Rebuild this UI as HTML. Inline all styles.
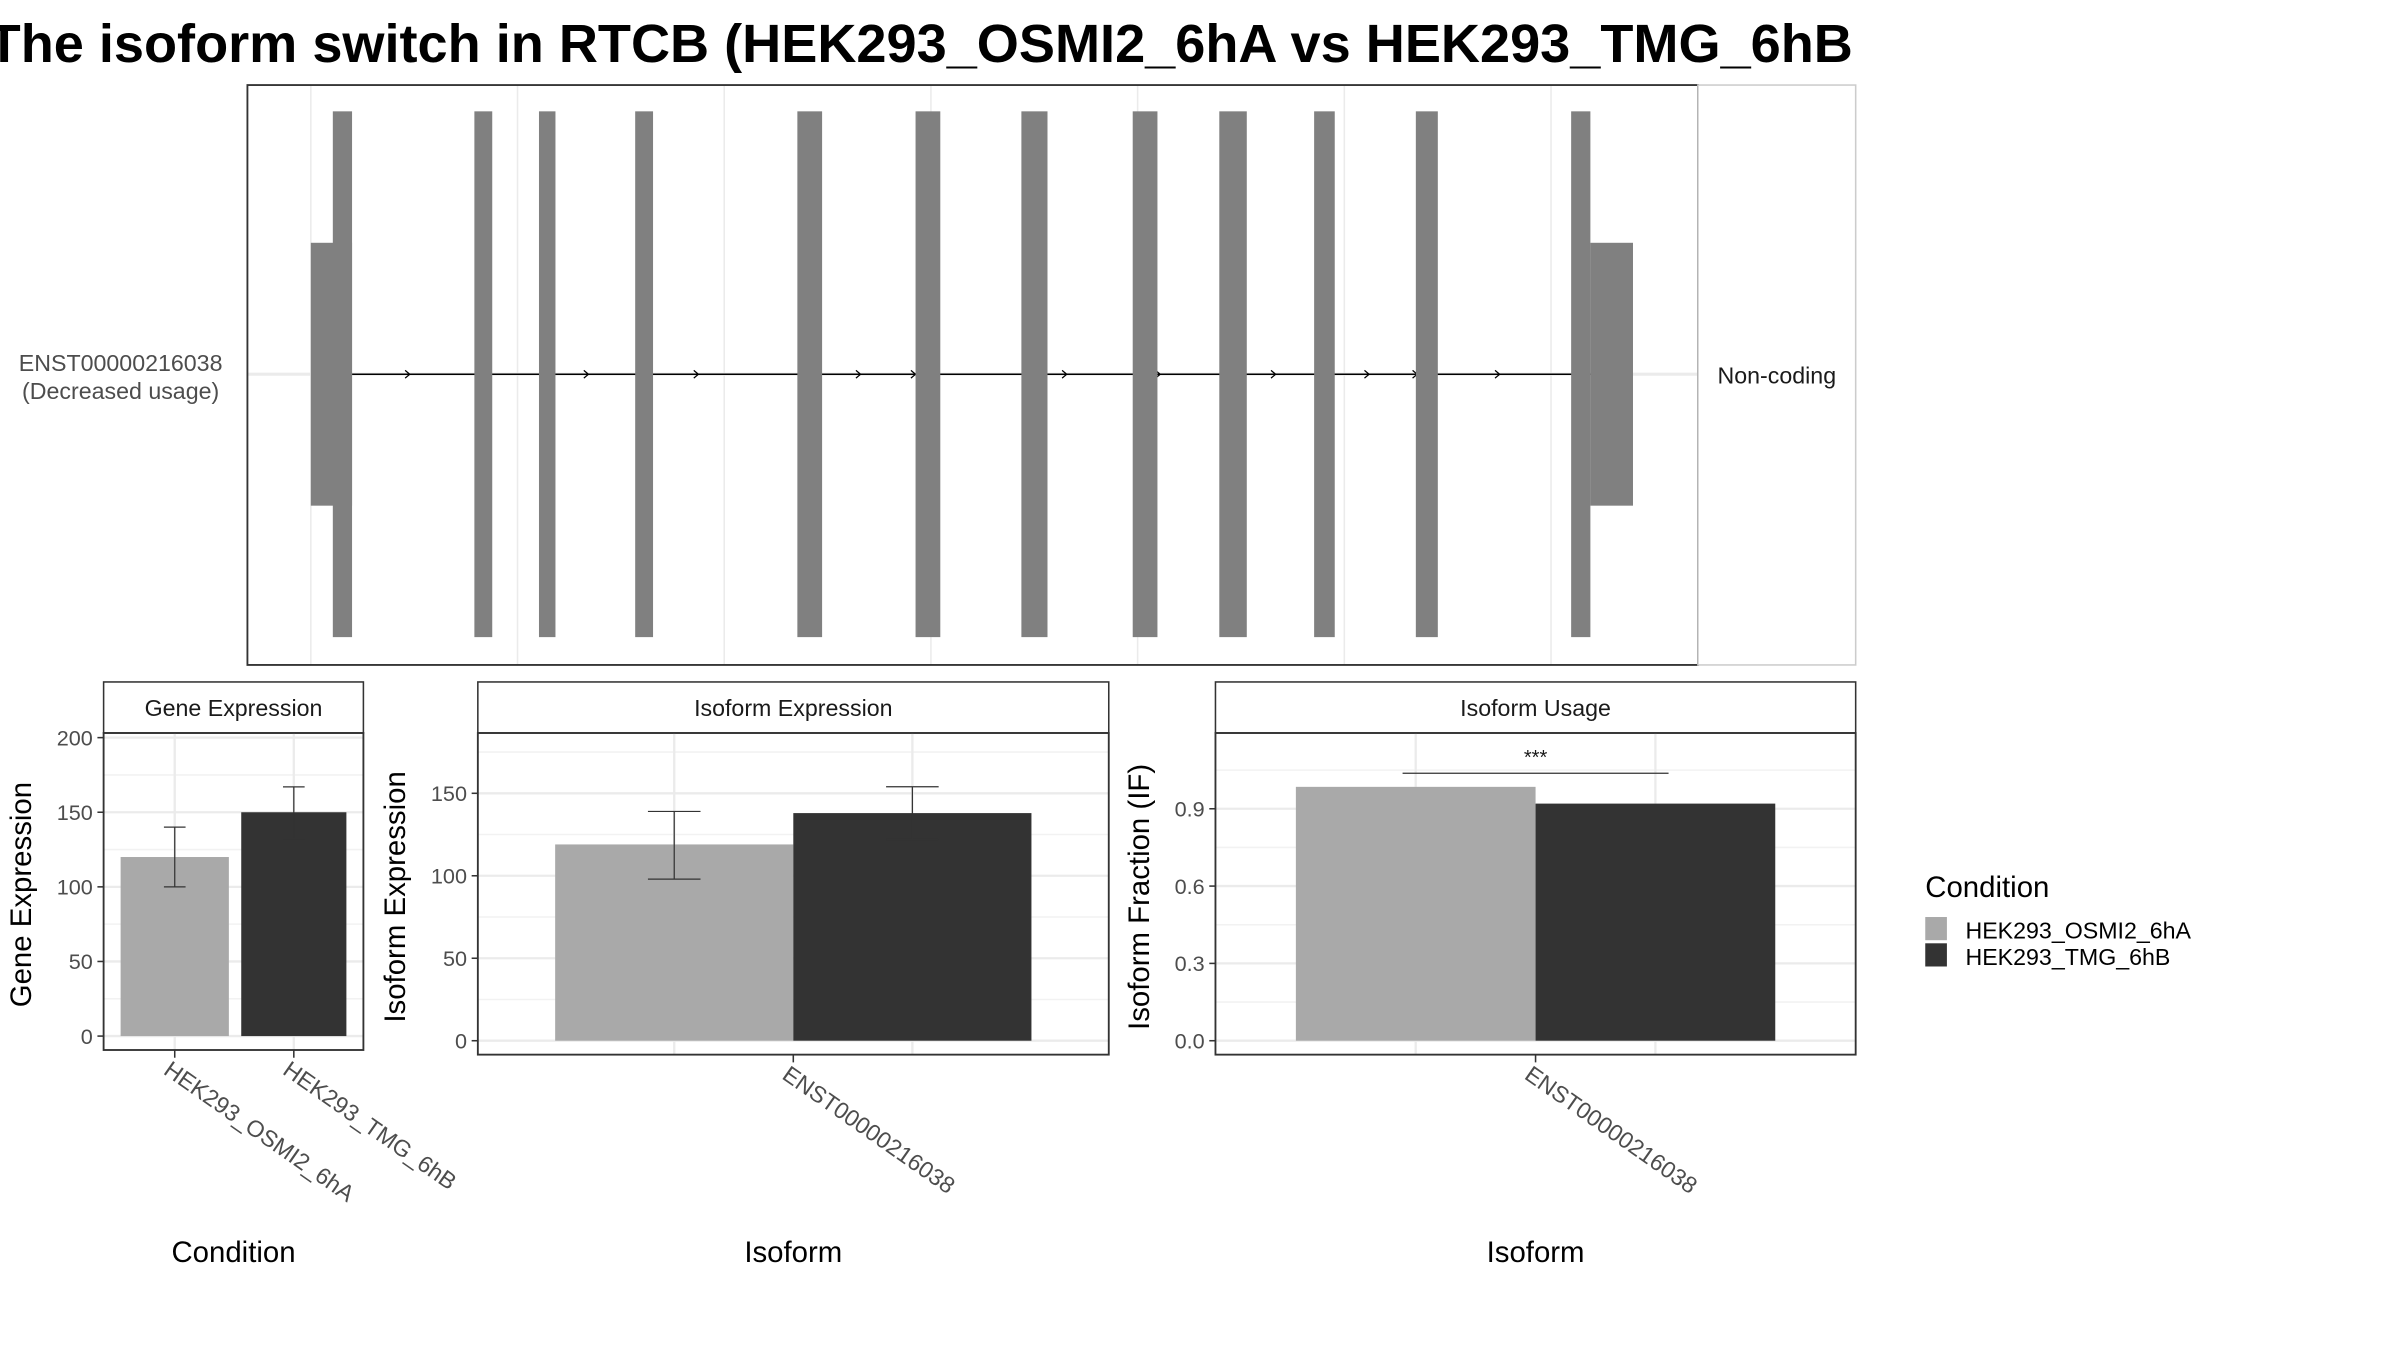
<!DOCTYPE html>
<html><head><meta charset="utf-8"><style>
html,body{margin:0;padding:0;background:#fff;}
svg{display:block;font-family:"Liberation Sans",sans-serif;}
</style></head><body>
<svg id="chart" xmlns="http://www.w3.org/2000/svg" width="2400" height="1350" viewBox="0 0 1552 873">
<rect width="1552" height="873" fill="#fff"/>
<text x="-8" y="40" font-size="35" font-weight="bold" fill="#000">The isoform switch in RTCB (HEK293_OSMI2_6hA vs HEK293_TMG_6hB</text>
<g id="top"></g>
<g id="p1"></g>
<g id="p2"></g>
<g id="p3"></g>
<g>
<text x="1245" y="580" font-size="19">Condition</text>
<rect x="1245" y="593" width="14" height="15" fill="#a9a9a9"/>
<rect x="1245" y="610" width="14" height="15" fill="#333"/>
<text x="1271" y="607" font-size="15">HEK293_OSMI2_6hA</text>
<text x="1271" y="624" font-size="15">HEK293_TMG_6hB</text>
</g>
</svg>
<script>
const NS="http://www.w3.org/2000/svg";
// transcript structure data (genomic units, 0..1000 axis)
const exonStarts=[16,119,166,236,354,440,517,598,661,730,804,917];
const exonEnds=[30,132,178,249,372,458,536,616,681,745,820,931];
const utrStart=[0,30];
const utrEnd=[931,962];
const gridPos=[0,150,300,450,600,750,900];
const arrowPos=[72,170,202,242,282,400,440,522,550,618,702,770,805,865];
// bar charts
const conditions=["HEK293_OSMI2_6hA","HEK293_TMG_6hB"];
const geneExp=[120,150];
const geneLo=[100,132];
const geneHi=[140,167];
const isoExp=[119,138];
const isoLo=[98,122];
const isoHi=[139,154];
const isoUsage=[0.985,0.92];
const geneTicks=[0,50,100,150,200];
const isoTicks=[0,50,100,150];
const ifTicks=[0,0.3,0.6,0.9];
const ifTickLabels=["0.0","0.3","0.6","0.9"];
const colors=["#a9a9a9","#333333"];

function mk(parent,tag,attrs,name,text){
  const e=document.createElementNS(NS,tag);
  for(const k in attrs)e.setAttribute(k,attrs[k]);
  
  
  if(text!==undefined)e.textContent=text;
  parent.appendChild(e);return e;
}
// top panel
(function(){
  const g=document.getElementById('top');
  const X0=160,X1=1098,Y0=55,Y1=430;
  const gx=v=>201+v*(1056-201)/962;
  mk(g,'rect',{x:X0,y:Y0,width:X1-X0,height:Y1-Y0,fill:'#fff'},'plot-background');
  gridPos.forEach(p=>{const x=201+p*(1003-201)/900;
    mk(g,'line',{x1:x,x2:x,y1:Y0,y2:Y1,stroke:'#ebebeb','stroke-width':1},'grid-line-x');});
  mk(g,'line',{x1:X0,x2:X1,y1:242,y2:242,stroke:'#ebebeb','stroke-width':2},'grid-line-y');
  mk(g,'line',{x1:gx(utrStart[1]),x2:gx(utrEnd[0]),y1:242,y2:242,stroke:'#000','stroke-width':1},'intron-line');
  arrowPos.forEach(a=>{const x=gx(a);
    mk(g,'path',{d:`M${x-3},${239.5}L${x},242L${x-3},${244.5}`,fill:'none',stroke:'#000','stroke-width':0.8},'intron-arrow');});
  mk(g,'rect',{x:gx(utrStart[0]),y:157,width:gx(utrStart[1])-gx(utrStart[0]),height:170,fill:'#808080'},'utr-5prime');
  mk(g,'rect',{x:gx(utrEnd[0]),y:157,width:gx(utrEnd[1])-gx(utrEnd[0]),height:170,fill:'#808080'},'utr-3prime');
  exonStarts.forEach((s,i)=>{
    mk(g,'rect',{x:gx(s),y:72,width:gx(exonEnds[i])-gx(s),height:340,fill:'#808080'},'exon-'+(i+1));});
  mk(g,'rect',{x:X0,y:Y0,width:X1-X0,height:Y1-Y0,fill:'none',stroke:'#333','stroke-width':1.2},'plot-border');
  mk(g,'rect',{x:X1,y:Y0,width:1200-X1,height:Y1-Y0,fill:'#fff',stroke:'#ccc','stroke-width':1},'facet-strip');
  mk(g,'text',{x:1149,y:248,'font-size':15,'text-anchor':'middle',fill:'#1a1a1a'},'strip-label','Non-coding');
  mk(g,'text',{x:78,y:240,'font-size':15,'text-anchor':'middle',fill:'#4d4d4d'},'transcript-label','ENST00000216038');
  mk(g,'text',{x:78,y:258,'font-size':15,'text-anchor':'middle',fill:'#4d4d4d'},'transcript-usage-label','(Decreased usage)');
})();

function panel(id,cfg){
  const g=document.getElementById(id);
  const {x0,x1,py0,py1,zeroY,refV,refY,vals,lo,hi,ticks,labels,title,ytitle,xtitle,bars,xlabels,minor}=cfg;
  const sy=v=>zeroY+(refY-zeroY)*v/refV;
  mk(g,'rect',{x:x0,y:441,width:x1-x0,height:py0-441,fill:'#fff',stroke:'#333','stroke-width':1},'facet-strip');
  mk(g,'text',{x:(x0+x1)/2,y:463,'font-size':15,'text-anchor':'middle',fill:'#1a1a1a'},'strip-title',title);
  minor.forEach(v=>{const y=sy(v);if(y>py0&&y<py1)mk(g,'line',{x1:x0,x2:x1,y1:y,y2:y,stroke:'#f2f2f2','stroke-width':1},'minor-grid');});
  ticks.forEach((v,i)=>{const y=sy(v);
    mk(g,'line',{x1:x0,x2:x1,y1:y,y2:y,stroke:'#ebebeb','stroke-width':1.5},'major-grid');
    mk(g,'line',{x1:x0-4,x2:x0,y1:y,y2:y,stroke:'#333'},'y-tick');
    mk(g,'text',{x:x0-7,y:y+5,'font-size':14,'text-anchor':'end',fill:'#4d4d4d'},'y-tick-label',labels[i]);});
  bars.forEach(b=>{const c=(b[0]+b[1])/2;mk(g,'line',{x1:c,x2:c,y1:py0,y2:py1,stroke:'#ebebeb','stroke-width':1.5},'grid-x');});
  vals.forEach((v,i)=>{const b=bars[i];
    mk(g,'rect',{x:b[0],y:sy(v),width:b[1]-b[0],height:sy(0)-sy(v),fill:colors[i]},'bar-'+conditions[i].toLowerCase());
    if(lo){const c=(b[0]+b[1])/2,w=cfg.ew;
      mk(g,'path',{d:`M${c-w},${sy(hi[i])}H${c+w}M${c},${sy(hi[i])}V${sy(lo[i])}M${c-w},${sy(lo[i])}H${c+w}`,fill:'none',stroke:'#333','stroke-width':0.8},'error-bar');}
  });
  mk(g,'rect',{x:x0,y:py0,width:x1-x0,height:py1-py0,fill:'none',stroke:'#333','stroke-width':1.2},'plot-border');
  xlabels.forEach(l=>{
    mk(g,'line',{x1:l.x,x2:l.x,y1:py1,y2:py1+5,stroke:'#333'},'x-tick');
    mk(g,'text',{x:l.x-8,y:py1+15,'font-size':15,fill:'#4d4d4d',transform:`rotate(35 ${l.x-8} ${py1+15})`},'x-tick-label',l.t);});
  mk(g,'text',{x:(x0+x1)/2,y:816,'font-size':19,'text-anchor':'middle',fill:'#000'},'x-axis-title',xtitle);
  mk(g,'text',{x:cfg.ytx,y:0,'font-size':19,'text-anchor':'middle',fill:'#000',transform:`translate(0 ${(py0+py1)/2+2}) rotate(-90 ${cfg.ytx} 0)`},'y-axis-title',ytitle);
  return {g,sy};
}
panel('p1',{x0:67,x1:235,py0:474,py1:679,zeroY:670,refV:200,refY:477,vals:geneExp,lo:geneLo,hi:geneHi,ticks:geneTicks,labels:geneTicks.map(String),
  title:'Gene Expression',ytitle:'Gene Expression',xtitle:'Condition',bars:[[78,148],[156,224]],ew:7,ytx:20,minor:[25,75,125,175],
  xlabels:[{x:113,t:conditions[0]},{x:190,t:conditions[1]}]});
panel('p2',{x0:309,x1:717,py0:474,py1:682,zeroY:673,refV:150,refY:513,vals:isoExp,lo:isoLo,hi:isoHi,ticks:isoTicks,labels:isoTicks.map(String),
  title:'Isoform Expression',ytitle:'Isoform Expression',xtitle:'Isoform',bars:[[359,513],[513,667]],ew:17,ytx:262,minor:[25,75,125,175],
  xlabels:[{x:513,t:'ENST00000216038'}]});
const p3=panel('p3',{x0:786,x1:1200,py0:474,py1:682,zeroY:673,refV:0.9,refY:523,vals:isoUsage,ticks:ifTicks,labels:ifTickLabels,
  title:'Isoform Usage',ytitle:'Isoform Fraction (IF)',xtitle:'Isoform',bars:[[838,993],[993,1148]],ew:0,ytx:743,minor:[0.15,0.45,0.75,1.05],
  xlabels:[{x:993,t:'ENST00000216038'}]});
mk(p3.g,'line',{x1:907,x2:1079,y1:500,y2:500,stroke:'#333','stroke-width':0.8},'significance-line');
mk(p3.g,'text',{x:993,y:494,'font-size':13,'text-anchor':'middle',fill:'#1a1a1a'},'significance-stars','***');
</script>
</body></html>
